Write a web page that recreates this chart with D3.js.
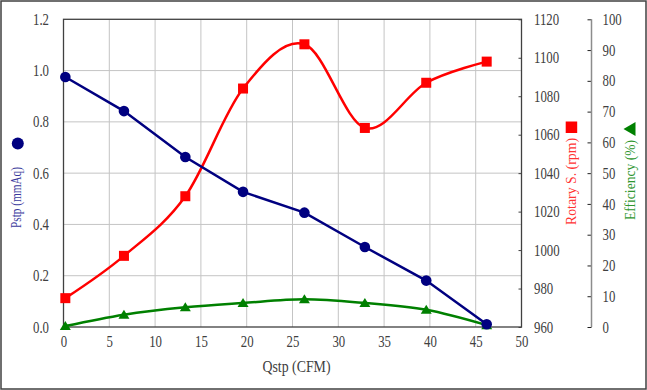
<!DOCTYPE html>
<html lang="en">
<head>
	<meta charset="UTF-8">
	<title>Qstp chart</title>
	<script src="https://cdn.jsdelivr.net/npm/d3@7"></script>
	<style>
	body { margin: 0; background: #fff; }
	</style>
</head>
<body>
<div id="chart"></div>
<script>
// values
var qstp = [0.2, 6.6, 13.3, 19.6, 26.3, 32.9, 39.6, 46.2];
var pstp = [0.975, 0.842, 0.663, 0.527, 0.446, 0.312, 0.181, 0.011];
var rpm = [975, 997, 1028, 1084, 1107, 1063.5, 1087, 1098];
var eff = [0.3, 4.0, 6.4, 7.8, 9.0, 7.8, 5.6, 0.6];

var xTicks = [0, 5, 10, 15, 20, 25, 30, 35, 40, 45, 50];
var pTicks = [0, 0.2, 0.4, 0.6, 0.8, 1.0, 1.2];
var rTicks = [960, 980, 1000, 1020, 1040, 1060, 1080, 1100, 1120];
var eTicks = [0, 10, 20, 30, 40, 50, 60, 70, 80, 90, 100];

var W = 647, H = 390;
var pl = 63.5, pr = 521.5, pt = 19.3, pb = 327;
var sx = 0.8; // narrow serif look
var serif = '"Liberation Serif", "Times New Roman", "DejaVu Serif", serif';

var svg = d3.select('#chart').append('svg')
	.attr('width', W).attr('height', H);

svg.append('rect')
	.attr('x', 1).attr('y', 1).attr('width', W - 2).attr('height', H - 2)
	.attr('fill', '#fff').attr('stroke', '#404040').attr('stroke-width', 1.5);

var x = d3.scaleLinear().domain([0, 50]).range([pl, pr]);
var y = d3.scaleLinear().domain([0, 1.2]).range([pb, pt]);
var yR = d3.scaleLinear().domain([960, 1120]).range([pb, pt]);
var yE = d3.scaleLinear().domain([0, 100]).range([pb, pt]);

// grid
var grid = svg.append('g').attr('stroke', '#c4c4c4').attr('stroke-width', 1);
grid.selectAll('.vx').data(xTicks.slice(1, -1)).enter().append('line')
	.attr('x1', function (d) { return x(d); }).attr('x2', function (d) { return x(d); })
	.attr('y1', pt).attr('y2', pb);
grid.selectAll('.hy').data(pTicks.slice(1, -1)).enter().append('line')
	.attr('y1', function (d) { return y(d); }).attr('y2', function (d) { return y(d); })
	.attr('x1', pl).attr('x2', pr);

svg.append('rect')
	.attr('x', pl).attr('y', pt).attr('width', pr - pl).attr('height', pb - pt)
	.attr('fill', 'none').attr('stroke', '#404040').attr('stroke-width', 1.3);

function styleTicks(g) {
	g.attr('font-family', null).attr('font-size', null);
	g.select('.domain').remove();
	g.selectAll('.tick text')
		.attr('fill', '#404040')
		.style('font-family', serif)
		.style('font-size', '16px')
		.attr('x', function () { return (+d3.select(this).attr('x') || 0) / sx; })
		.attr('transform', 'scale(' + sx + ',1)');
}

// left axis
var gl = svg.append('g').attr('transform', 'translate(' + pl + ',0)')
	.call(d3.axisLeft(y).tickValues(pTicks).tickFormat(d3.format('.1f')).tickSize(0).tickPadding(14.5));
styleTicks(gl);

// bottom axis
var gb = svg.append('g').attr('transform', 'translate(0,' + pb + ')')
	.call(d3.axisBottom(x).tickValues(xTicks).tickFormat(d3.format('d')).tickSize(0).tickPadding(8.5));
styleTicks(gb);

// rpm axis
var gr = svg.append('g').attr('transform', 'translate(' + pr + ',0)')
	.call(d3.axisRight(yR).tickValues(rTicks).tickFormat(d3.format('d')).tickSize(-3).tickSizeOuter(0).tickPadding(12.5));
gr.selectAll('.tick line').attr('stroke', '#404040');
styleTicks(gr);

// efficiency axis
var eX = 591.5;
var ge = svg.append('g').attr('transform', 'translate(' + eX + ',0)')
	.call(d3.axisRight(yE).tickValues(eTicks).tickFormat(d3.format('d')).tickSize(-4).tickSizeOuter(0).tickPadding(11));
ge.selectAll('.tick line').attr('stroke', '#202020');
styleTicks(ge);
svg.append('line')
	.attr('x1', eX).attr('x2', eX).attr('y1', pt).attr('y2', pb)
	.attr('stroke', '#8c8c8c').attr('stroke-width', 1.5);

// series
var pts = qstp.map(function (q, i) {
	return { q: q, p: pstp[i], r: rpm[i], e: eff[i] };
});

var linePstp = d3.line()
	.x(function (d) { return x(d.q); }).y(function (d) { return y(d.p); });
var lineRpm = d3.line().curve(d3.curveCatmullRom.alpha(0))
	.x(function (d) { return x(d.q); }).y(function (d) { return yR(d.r); });
var lineEff = d3.line().curve(d3.curveCatmullRom.alpha(0))
	.x(function (d) { return x(d.q); }).y(function (d) { return yE(d.e); });

svg.append('path').datum(pts).attr('d', lineEff)
	.attr('fill', 'none').attr('stroke', '#008000').attr('stroke-width', 2.5);
svg.append('path').datum(pts).attr('d', lineRpm)
	.attr('fill', 'none').attr('stroke', '#ff0000').attr('stroke-width', 2.5);
svg.append('path').datum(pts).attr('d', linePstp)
	.attr('fill', 'none').attr('stroke', '#000080').attr('stroke-width', 2.5);

svg.selectAll('.tri').data(pts).enter().append('path')
	.attr('class', 'tri')
	.attr('d', function (d) {
		var cx = x(d.q), cy = yE(d.e);
		return 'M' + cx + ',' + (cy - 5) + 'L' + (cx + 5.5) + ',' + (cy + 4) + 'L' + (cx - 5.5) + ',' + (cy + 4) + 'Z';
	})
	.attr('fill', '#008000');

svg.selectAll('.sq').data(pts).enter().append('rect')
	.attr('class', 'sq')
	.attr('x', function (d) { return x(d.q) - 5; })
	.attr('y', function (d) { return yR(d.r) - 5; })
	.attr('width', 10).attr('height', 10)
	.attr('fill', '#ff0000');

svg.selectAll('.dot').data(pts).enter().append('circle')
	.attr('class', 'dot')
	.attr('cx', function (d) { return x(d.q); })
	.attr('cy', function (d) { return y(d.p); })
	.attr('r', 5.3)
	.attr('fill', '#000080');

// titles
svg.append('text')
	.attr('x', 296.5).attr('y', 372)
	.attr('text-anchor', 'middle')
	.attr('fill', '#404040')
	.style('font-family', serif)
	.style('font-size', '17px')
	.attr('textLength', 68).attr('lengthAdjust', 'spacingAndGlyphs')
	.text('Qstp (CFM)');

function vTitle(cx, cy, len, size, color, label) {
	svg.append('text')
		.attr('transform', 'translate(' + cx + ',' + cy + ') rotate(-90)')
		.attr('text-anchor', 'middle')
		.attr('fill', color)
		.style('font-family', serif)
		.style('font-size', size + 'px')
		.attr('textLength', len).attr('lengthAdjust', 'spacingAndGlyphs')
		.text(label);
}

vTitle(21, 197.5, 61, 14, '#3a3a9c', 'Pstp (mmAq)');
svg.append('circle').attr('cx', 17.8).attr('cy', 143.5).attr('r', 6).attr('fill', '#000080');

vTitle(575.5, 181.5, 87, 15, '#ff3333', 'Rotary S. (rpm)');
svg.append('rect').attr('x', 565.7).attr('y', 121.5).attr('width', 11.5).attr('height', 11.5).attr('fill', '#ff0000');

vTitle(635, 180, 80, 15, '#2e962e', 'Efficiency (%)');
svg.append('path').attr('d', 'M623.5,129L635.5,122L635.5,136Z').attr('fill', '#008000');
</script>
</body>
</html>
